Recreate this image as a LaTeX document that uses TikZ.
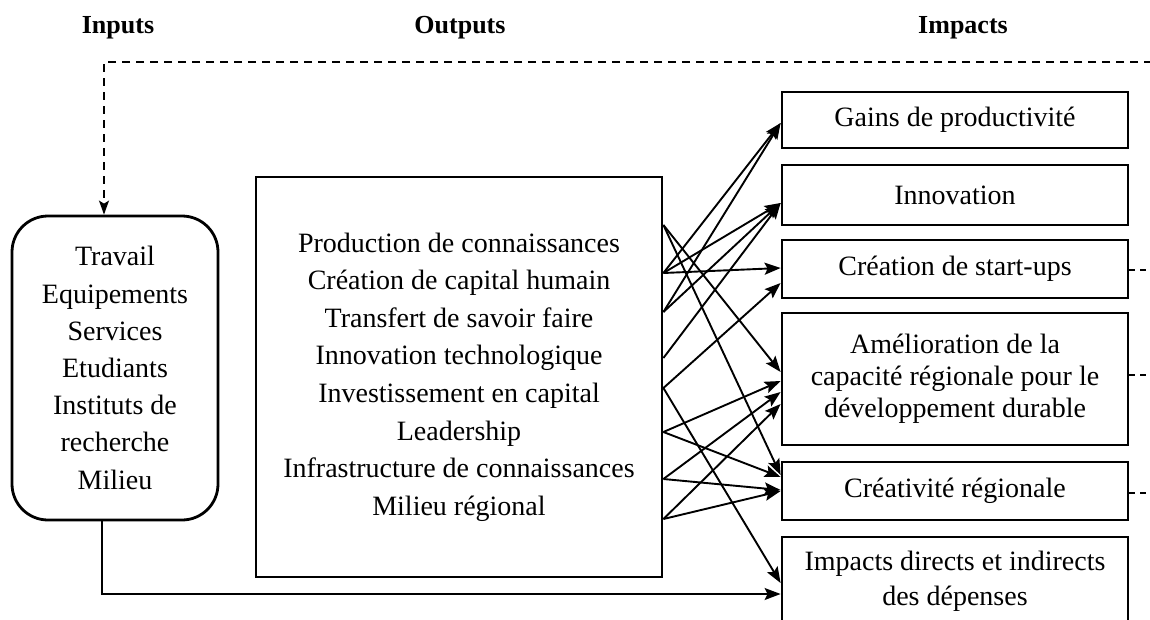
\documentclass[tikz,border=0pt]{standalone}
\usepackage{fontspec}
\setmainfont{Liberation Serif}
\usetikzlibrary{arrows.meta,calc}
\begin{document}
\begin{tikzpicture}[x=1pt,y=-1pt,
  hdr/.style={font=\fontsize{26}{30}\selectfont\bfseries, inner sep=0pt},
  boxline/.style={draw, line width=2.8pt},
  impbox/.style={boxline, minimum width=346pt, inner sep=0pt, align=center, font=\fontsize{28}{32}\selectfont},
  arr/.style={line width=1.9pt, -{Stealth[length=16pt,width=12pt,inset=3pt]}},
  dashedline/.style={line width=1.6pt, dash pattern=on 8pt off 6pt},
]
\clip (0,0) rectangle (1150,619);
\fill[white] (0,0) rectangle (1150,619);

% headers
\node[hdr] (hin) at (118,28) {Inputs};
\node[hdr] (hout) at (460,28) {Outputs};
\node[hdr] (himp) at (963,28) {Impacts};

% inputs box
\node[boxline, rounded corners=36pt, minimum width=206pt, minimum height=304pt, inner sep=0pt,
      align=center, font=\fontsize{28}{37.2}\selectfont] (in) at (115,368)
  {Travail\\Equipements\\Services\\Etudiants\\Instituts de\\recherche\\Milieu};

% outputs box
\node[boxline, minimum width=406pt, minimum height=400pt, inner sep=0pt,
      align=center, font=\fontsize{28}{37.6}\selectfont] (out) at (459,377)
  {Production de connaissances\\Création de capital humain\\Transfert de savoir faire\\Innovation technologique\\Investissement en capital\\Leadership\\Infrastructure de connaissances\\Milieu régional};

% impact boxes
\node[impbox, minimum height=56pt] (b1) at (955,120) {Gains de productivité};
\node[impbox, minimum height=60pt] (b2) at (955,195) {Innovation};
\node[impbox, minimum height=58pt] (b3) at (955,269) {Création de start-ups};
\node[impbox, minimum height=132pt] (b4) at (955,379) {Amélioration de la\\capacité régionale pour le\\développement durable};
\node[impbox, minimum height=58pt] (b5) at (955,491) {Créativité régionale};
\node[impbox, minimum height=88pt, font=\fontsize{28}{35}\selectfont] (b6) at (955,581) {Impacts directs et indirects\\des dépenses};

% feedback dashed line
\coordinate (fb) at (1152,62);
\draw[dashedline, -{Stealth[length=14pt,width=10pt,inset=3pt]}] (fb) -| ($(in.north)+(-11,0)$);
\coordinate (s3) at (1152,270);
\coordinate (s4) at (1152,375);
\coordinate (s5) at (1152,493);
\draw[line width=1.3pt, dash pattern=on 6pt off 5pt] (b3.east |- s3) -- (s3);
\draw[line width=1.3pt, dash pattern=on 6pt off 5pt] (b4.east |- s4) -- (s4);
\draw[line width=1.3pt, dash pattern=on 6pt off 5pt] (b5.east |- s5) -- (s5);

% inputs to direct impacts
\draw[line width=1.6pt, -{Stealth[length=16pt,width=12pt,inset=3pt]}] ($(in.south)+(-13,0)$) |- (b6.west |- 0,594);

% start points on outputs box
\coordinate (oa) at (out.east |- 0,225);
\coordinate (ob) at (out.east |- 0,273);
\coordinate (oc) at (out.east |- 0,312);
\coordinate (od) at (out.east |- 0,358);
\coordinate (oe) at (out.east |- 0,388);
\coordinate (of) at (out.east |- 0,432);
\coordinate (og) at (out.east |- 0,479);
\coordinate (oh) at (out.east |- 0,519);

% cross arrows
\draw[arr] (ob) -- (b1.west |- 0,123);
\draw[arr] (oc) -- (b1.west |- 0,123);
\draw[arr] (ob) -- (b2.west |- 0,203);
\draw[arr] (oc) -- (b2.west |- 0,203);
\draw[arr] (od) -- (b2.west |- 0,203);
\draw[arr] (ob) -- (b3.west |- 0,268);
\draw[arr] (oe) -- (b3.west |- 0,283);
\draw[arr] (oa) -- (b4.west |- 0,372);
\draw[arr] (of) -- (b4.west |- 0,381);
\draw[arr] (og) -- (b4.west |- 0,392);
\draw[arr] (oh) -- (b4.west |- 0,404);
\draw[arr] (oa) -- (b5.west |- 0,475);
\draw[arr] (of) -- (b5.west |- 0,477);
\draw[arr] (og) -- (b5.west |- 0,490);
\draw[arr] (oh) -- (b5.west |- 0,491);
\draw[arr] (oe) -- (b6.west |- 0,583);
\end{tikzpicture}
\end{document}
